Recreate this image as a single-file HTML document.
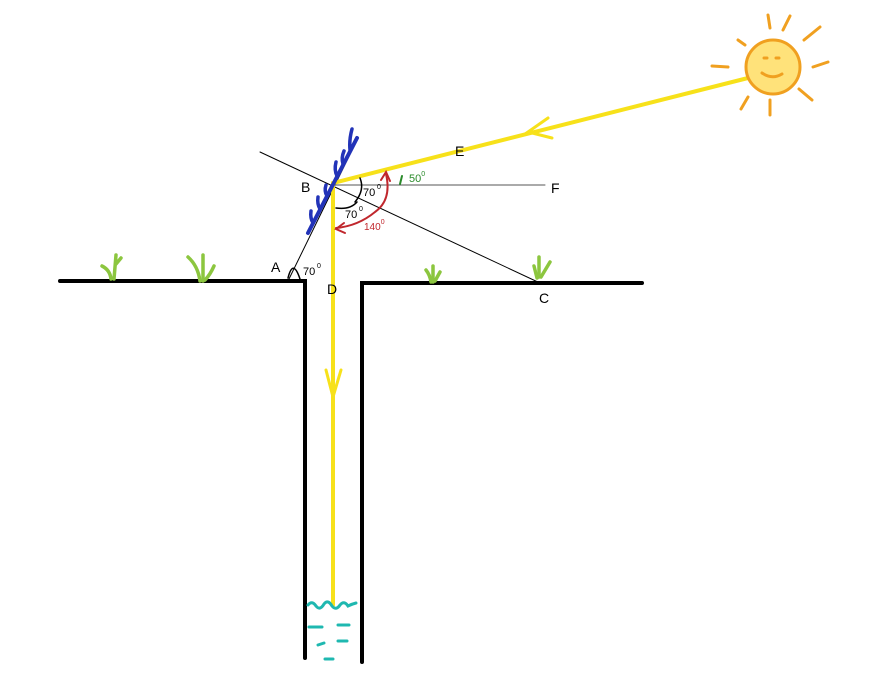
<!DOCTYPE html>
<html><head><meta charset="utf-8"><style>html,body{margin:0;padding:0;background:#fff}svg{display:block}text{font-family:"Liberation Sans",sans-serif}</style></head>
<body>
<svg width="874" height="679" viewBox="0 0 874 679" xmlns="http://www.w3.org/2000/svg">
<g stroke-linecap="round" fill="none">
<path d="M60 281 H305 V658" stroke="#000" stroke-width="4"/>
<path d="M642 283 H362 V662" stroke="#000" stroke-width="4"/>
<line x1="288" y1="281" x2="357" y2="140" stroke="#000" stroke-width="1"/>
<line x1="260" y1="152" x2="540" y2="283" stroke="#000" stroke-width="1"/>
<line x1="333" y1="185" x2="545" y2="185" stroke="#555" stroke-width="1"/>
<path d="M748 78 L333 183 V605" stroke="#f7e11a" stroke-width="4"/>
<path d="M548 118 L528 132 L552 138" stroke="#f7e11a" stroke-width="3"/>
<path d="M326 370 L333 397 L341 370" stroke="#f7e11a" stroke-width="3"/>
<line x1="308" y1="233" x2="357" y2="138" stroke="#2233b8" stroke-width="4"/>
<g stroke="#2233b8" stroke-width="3.5">
<path d="M313 223 Q310 218 311 211"/>
<path d="M320 209 Q317 204 318 197"/>
<path d="M327 196 Q324 191 326 185"/>
<path d="M337 176 Q334 170 336 162"/>
<path d="M343 164 Q341 158 344 151"/>
<path d="M350 150 Q349 140 352 129"/>
</g>
<path d="M288 278 Q293 258 300 279" stroke="#000" stroke-width="1.5"/>
<path d="M360 178 Q365 190 355 202" stroke="#000" stroke-width="1.5"/>
<path d="M357 202 Q350 210 336 208" stroke="#000" stroke-width="1.5"/>
<path d="M386 174 Q392 200 375 212 Q358 226 336 228" stroke="#c0272d" stroke-width="2"/>
<path d="M381 180 L386 172 L390 181" stroke="#c0272d" stroke-width="2"/>
<path d="M344 223 L336 229 L345 233" stroke="#c0272d" stroke-width="2"/>
<path d="M402 176 L400 184" stroke="#2a8a2a" stroke-width="2"/>
<g stroke="#8cc63f" stroke-width="3.5">
<path d="M102 266 Q110 270 111 279"/><path d="M114 279 L116 255"/><path d="M116 264 L121 258"/>
<path d="M188 257 Q198 266 200 281"/><path d="M203 281 L203 255"/><path d="M205 280 Q210 275 214 266"/>
<path d="M426 270 Q430 275 431 282"/><path d="M433 282 L433 266"/><path d="M435 281 L440 272"/>
<path d="M534 266 L537 278"/><path d="M539 277 L539 257"/><path d="M541 277 L550 262"/>
</g>
<g stroke="#1fb8b0" stroke-width="3">
<path d="M308 605 Q312 600 316 606 Q320 611 324 604 Q328 599 332 606 Q336 611 340 605 Q344 600 348 606 Q352 604 356 603"/>
<path d="M309 627 H322"/><path d="M338 625 H349"/><path d="M318 645 L324 643"/><path d="M338 641 H347"/><path d="M325 659 H333"/>
</g>
<circle cx="773" cy="67" r="27" fill="#ffe27a" stroke="#f0a020" stroke-width="3"/>
<g stroke="#f0a020" stroke-width="3">
<path d="M768 15 L770 28"/><path d="M790 16 L783 30"/><path d="M820 27 L804 40"/><path d="M828 62 L813 67"/>
<path d="M812 100 L799 89"/><path d="M770 100 L770 115"/><path d="M748 97 L741 109"/><path d="M712 66 L728 67"/><path d="M738 40 L745 45"/>
<path d="M764 58 L767 58"/><path d="M776 58 L779 58"/><path d="M762 73 Q772 80 782 74"/>
</g>
</g>
<g font-size="14" fill="#000">
<text x="301" y="192">B</text><text x="455" y="156">E</text><text x="551" y="193">F</text>
<text x="271" y="272">A</text><text x="327" y="294">D</text><text x="539" y="303">C</text>
</g>
<g font-size="11" fill="#000">
<text x="303" y="275">70</text><text x="317" y="268" font-size="7">0</text>
<text x="363" y="196">70</text><text x="377" y="189" font-size="7">0</text>
<text x="345" y="218">70</text><text x="359" y="211" font-size="7">0</text>
</g>
<text x="364" y="230" font-size="10" fill="#c0272d">140<tspan font-size="7" dy="-6">0</tspan></text>
<text x="409" y="182" font-size="11" fill="#2a8a2a">50<tspan font-size="7" dy="-6">0</tspan></text>
</svg>
</body></html>
